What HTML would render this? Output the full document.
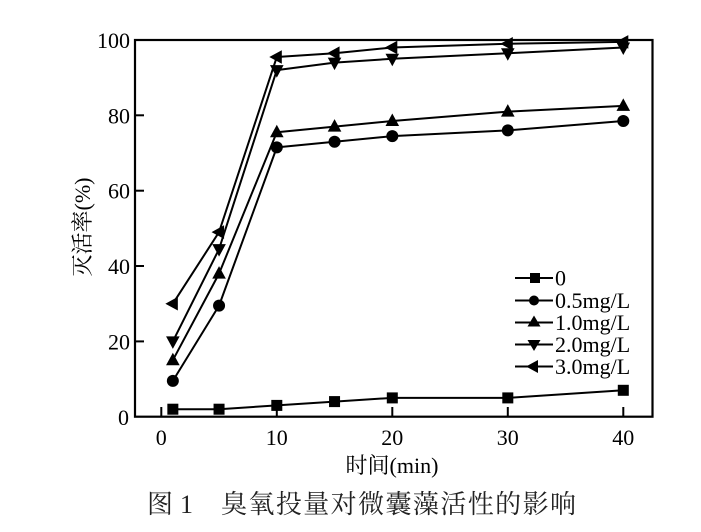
<!DOCTYPE html>
<html>
<head>
<meta charset="utf-8">
<style>
html,body{margin:0;padding:0;background:#fff;}
svg{display:block;}
text{font-family:"Liberation Serif","Noto Serif CJK SC",serif;fill:#000;}
</style>
</head>
<body>
<svg width="701" height="532" viewBox="0 0 701 532" xmlns="http://www.w3.org/2000/svg">
<defs>
  <rect id="sq" x="-5.5" y="-5.5" width="11" height="11" fill="#000"/>
  <circle id="ci" cx="0" cy="0" r="6" fill="#000"/>
  <polygon id="tu" points="0,-7.5 6.8,5 -6.8,5" fill="#000"/>
  <polygon id="td" points="0,7.5 6.8,-5 -6.8,-5" fill="#000"/>
  <polygon id="tl" points="-7.5,0 5,-6.8 5,6.8" fill="#000"/>
</defs>

<rect x="135" y="40" width="517.5" height="376.7" fill="none" stroke="#000" stroke-width="2.2"/>

<g stroke="#000" stroke-width="2">
  <line x1="135" y1="40" x2="144" y2="40"/>
  <line x1="135" y1="115.3" x2="144" y2="115.3"/>
  <line x1="135" y1="190.7" x2="144" y2="190.7"/>
  <line x1="135" y1="266" x2="144" y2="266"/>
  <line x1="135" y1="341.4" x2="144" y2="341.4"/>
  <line x1="161.3" y1="416.7" x2="161.3" y2="407"/>
  <line x1="276.8" y1="416.7" x2="276.8" y2="407"/>
  <line x1="392.3" y1="416.7" x2="392.3" y2="407"/>
  <line x1="507.8" y1="416.7" x2="507.8" y2="407"/>
  <line x1="623.3" y1="416.7" x2="623.3" y2="407"/>
</g>

<g font-size="22" text-anchor="end">
  <text x="130" y="48">100</text>
  <text x="130" y="123.3">80</text>
  <text x="130" y="198.7">60</text>
  <text x="130" y="274">40</text>
  <text x="130" y="349.4">20</text>
  <text x="129" y="425">0</text>
</g>
<g font-size="22" text-anchor="middle">
  <text x="161.3" y="445">0</text>
  <text x="276.8" y="445">10</text>
  <text x="392.3" y="445">20</text>
  <text x="507.8" y="445">30</text>
  <text x="623.3" y="445">40</text>
</g>

<text x="392" y="473" font-size="22" text-anchor="middle">时间(min)</text>
<text transform="translate(90,227) rotate(-90)" font-size="22" text-anchor="middle">灭活率(%)</text>

<g fill="none" stroke="#000" stroke-width="2" stroke-linejoin="round">
  <polyline points="172.85,409.2 219.05,409.2 276.8,405.4 334.55,401.6 392.3,397.9 507.8,397.9 623.3,390.3"/>
  <polyline points="172.85,380.9 219.05,305.6 276.8,147.4 334.55,141.7 392.3,136.1 507.8,130.4 623.3,121.0"/>
  <polyline points="172.85,360.2 219.05,273.6 276.8,132.3 334.55,126.6 392.3,121.0 507.8,111.6 623.3,105.9"/>
  <polyline points="172.85,341.4 219.05,249.1 276.8,70.1 334.55,62.6 392.3,58.8 507.8,53.2 623.3,47.5"/>
  <polyline points="172.85,303.7 219.05,232.1 276.8,57.0 334.55,53.2 392.3,47.5 507.8,43.8 623.3,41.9"/>
</g>

<g>
  <use href="#sq" x="172.85" y="409.2"/><use href="#sq" x="219.05" y="409.2"/><use href="#sq" x="276.8" y="405.4"/><use href="#sq" x="334.55" y="401.6"/><use href="#sq" x="392.3" y="397.9"/><use href="#sq" x="507.8" y="397.9"/><use href="#sq" x="623.3" y="390.3"/>
  <use href="#ci" x="172.85" y="380.9"/><use href="#ci" x="219.05" y="305.6"/><use href="#ci" x="276.8" y="147.4"/><use href="#ci" x="334.55" y="141.7"/><use href="#ci" x="392.3" y="136.1"/><use href="#ci" x="507.8" y="130.4"/><use href="#ci" x="623.3" y="121.0"/>
  <use href="#tu" x="172.85" y="360.2"/><use href="#tu" x="219.05" y="273.6"/><use href="#tu" x="276.8" y="132.3"/><use href="#tu" x="334.55" y="126.6"/><use href="#tu" x="392.3" y="121.0"/><use href="#tu" x="507.8" y="111.6"/><use href="#tu" x="623.3" y="105.9"/>
  <use href="#td" x="172.85" y="341.4"/><use href="#td" x="219.05" y="249.1"/><use href="#td" x="276.8" y="70.1"/><use href="#td" x="334.55" y="62.6"/><use href="#td" x="392.3" y="58.8"/><use href="#td" x="507.8" y="53.2"/><use href="#td" x="623.3" y="47.5"/>
  <use href="#tl" x="172.85" y="303.7"/><use href="#tl" x="219.05" y="232.1"/><use href="#tl" x="276.8" y="57.0"/><use href="#tl" x="334.55" y="53.2"/><use href="#tl" x="392.3" y="47.5"/><use href="#tl" x="507.8" y="43.8"/><use href="#tl" x="623.3" y="41.9"/>
</g>

<g stroke="#000" stroke-width="2">
  <line x1="515" y1="278" x2="553" y2="278"/>
  <line x1="515" y1="300.5" x2="553" y2="300.5"/>
  <line x1="515" y1="322.5" x2="553" y2="322.5"/>
  <line x1="515" y1="344.5" x2="553" y2="344.5"/>
  <line x1="515" y1="366.5" x2="553" y2="366.5"/>
</g>
<g>
  <rect x="530" y="273" width="10" height="10" fill="#000"/>
  <circle cx="534" cy="300.5" r="5" fill="#000"/>
  <polygon points="534,315.5 540.5,326.5 527.5,326.5" fill="#000"/>
  <polygon points="534,351 540.5,340 527.5,340" fill="#000"/>
  <polygon points="526,366.5 538,360 538,373" fill="#000"/>
</g>
<g font-size="22">
  <text x="555" y="285.5">0</text>
  <text x="555" y="308">0.5mg/L</text>
  <text x="555" y="330">1.0mg/L</text>
  <text x="555" y="352">2.0mg/L</text>
  <text x="555" y="374">3.0mg/L</text>
</g>

<g font-size="26">
  <text x="147" y="513" style="fill:#222">图</text>
  <text x="180" y="513" style="fill:#222">1</text>
  <text x="221" y="513" textLength="355" lengthAdjust="spacing" style="fill:#222">臭氧投量对微囊藻活性的影响</text>
</g>
</svg>
</body>
</html>
